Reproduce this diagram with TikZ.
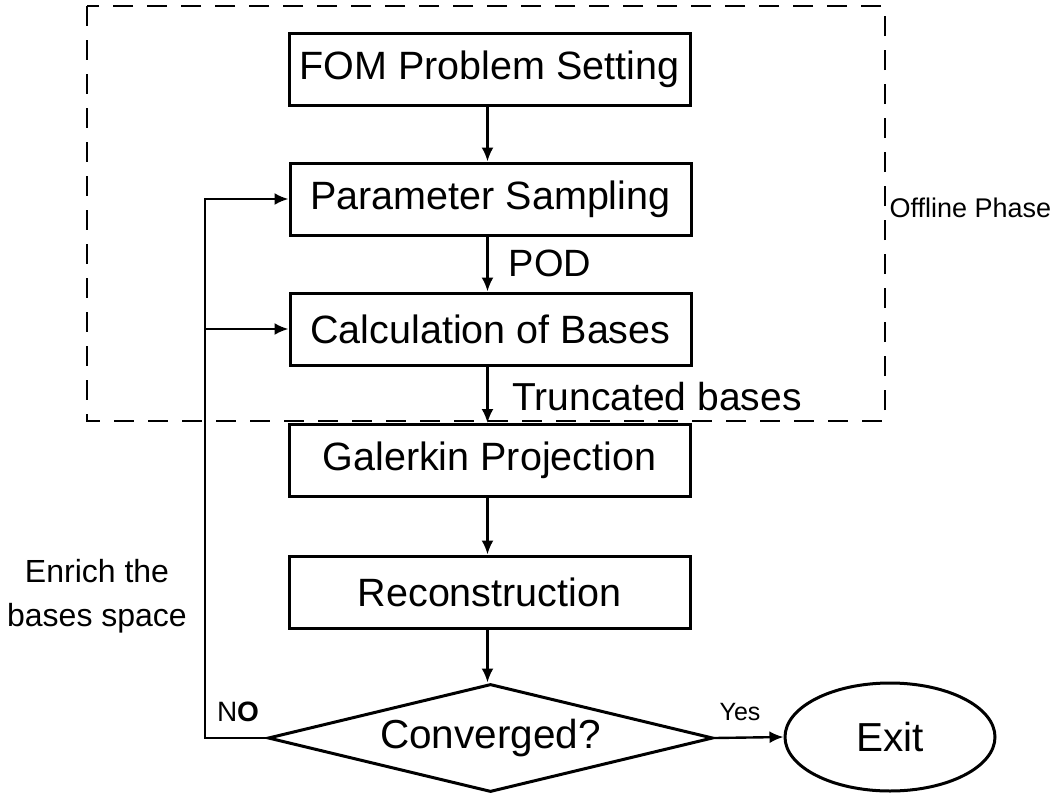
\documentclass[tikz,border=0pt]{standalone}
\usepackage{fontspec}
\setmainfont{Liberation Sans}
\usetikzlibrary{calc,shapes.geometric,arrows.meta}

\newcommand{\stepfont}{\fontsize{39.5}{44}\selectfont}
\newcommand{\bigfont}{\fontsize{40.5}{46}\selectfont}

\begin{document}
\begin{tikzpicture}[x=1pt, y=1pt, >={Latex[length=14pt,width=12pt]},
  stepbox/.style={draw, line width=3pt, rectangle, minimum width=401pt, minimum height=72pt, inner sep=0pt, font=\stepfont},
  flow/.style={->, line width=2.4pt, black}]
\useasboundingbox (0, 0) rectangle (1058, -798);

% offline part of the method
\draw [dash pattern=on 20pt off 14pt, line width=2.8pt] (87, -6) rectangle (885, -421);
\node [anchor=west, font=\fontsize{27}{32}\selectfont] (offline) at (886, -208) {Offline Phase};

\node [stepbox] (fom) at (489.5, -69) {FOM Problem Setting};
\node [stepbox] (sampling) at (490.5, -199) {Parameter Sampling};
\node [stepbox] (bases) at (490.5, -329) {Calculation of Bases};
\node [stepbox] (galerkin) at (489.5, -460.5) {Galerkin Projection};
\node [stepbox] (recon) at (489.5, -592) {Reconstruction};

\node [draw, diamond, shape aspect=4.12, line width=3pt, minimum width=445pt, minimum height=108pt, inner sep=0pt, font=\bigfont] (conv) at (490.5, -738) {Converged?};
\node [draw, ellipse, line width=3pt, minimum width=210pt, minimum height=108pt, inner sep=0pt, font=\bigfont] (exit) at (890, -737) {Exit};

\draw [flow] ($(fom.south)+(-2, 0)$) -- ($(sampling.north)+(-3, 0)$);
\draw [flow] ($(sampling.south)+(-3, 0)$) -- ($(bases.north)+(-3, 0)$);
\draw [flow] ($(bases.south)+(-3, 0)$) -- ($(galerkin.north)+(-2, 0)$);
\draw [flow] ($(galerkin.south)+(-2, 0)$) -- ($(recon.north)+(-2, 0)$);
\draw [flow] ($(recon.south)+(-2, 0)$) -- ($(conv.north)+(-3, 0)$);
\draw [flow] (conv.east) -- (exit.west);

\node [font=\fontsize{38}{44}\selectfont] (pod) at (550, -263) {POD};
\node [anchor=west, font=\fontsize{39}{44}\selectfont] (trunc) at (509, -397) {Truncated bases};

% loop back when not converged
\coordinate (fb) at (205, -738);
\draw [flow] (conv.west) -- (fb) |- (sampling.west);
\draw [flow] (fb |- bases.west) -- (bases.west);

\node [font=\fontsize{28}{32}\selectfont] (no) at (238, -712) {N\textbf{O}};
\node [font=\fontsize{25}{30}\selectfont] (yes) at (740, -712) {Yes};
\node [align=center, font=\fontsize{32}{44}\selectfont] (enrich) at (97, -596) {Enrich the\\bases space};
\end{tikzpicture}
\end{document}
